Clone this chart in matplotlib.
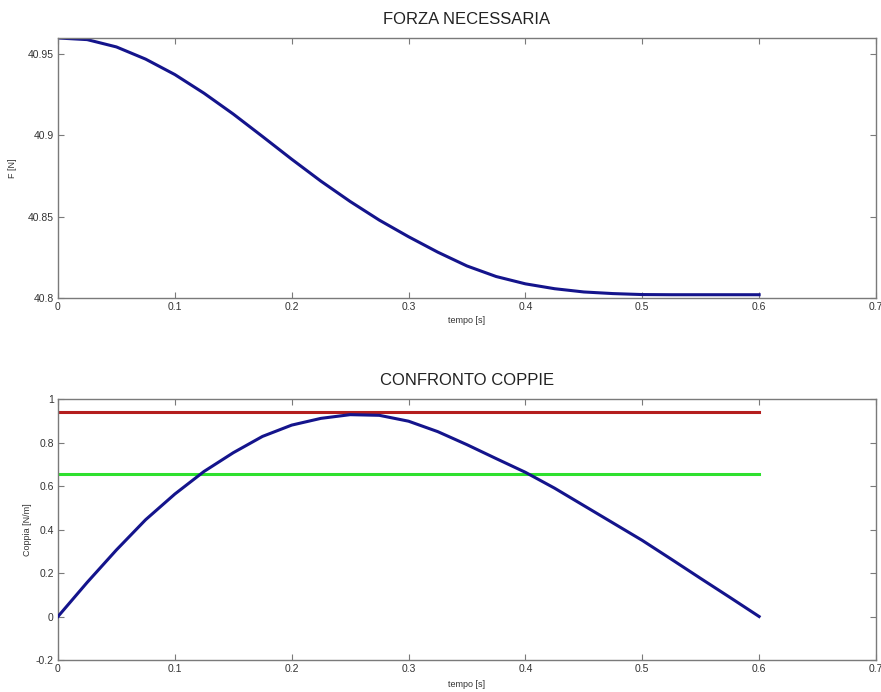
import matplotlib
matplotlib.use("Agg")
import matplotlib.pyplot as plt

# time samples [s]
tempo = [0.000, 0.025, 0.050, 0.075, 0.100, 0.125, 0.150, 0.175, 0.200,
         0.225, 0.250, 0.275, 0.300, 0.325, 0.350, 0.375, 0.400, 0.425,
         0.450, 0.475, 0.500, 0.525, 0.550, 0.575, 0.600]

# required force [N]
forza = [40.9600, 40.9590, 40.9545, 40.9470, 40.9375, 40.9260, 40.9132,
         40.8994, 40.8854, 40.8719, 40.8594, 40.8479, 40.8377, 40.8282,
         40.8197, 40.8132, 40.8087, 40.8057, 40.8037, 40.8027, 40.8021,
         40.8020, 40.8020, 40.8020, 40.8020]

# required torque [N/m]
coppia = [0.000, 0.157, 0.306, 0.445, 0.563, 0.667, 0.753, 0.828, 0.880,
          0.911, 0.928, 0.925, 0.898, 0.850, 0.790, 0.726, 0.663, 0.590,
          0.510, 0.430, 0.350, 0.263, 0.175, 0.088, 0.000]

# motor torque limits [N/m]
coppia_max = 0.94
coppia_nom = 0.655

x_ticks = [0, 0.1, 0.2, 0.3, 0.4, 0.5, 0.6, 0.7]
x_tick_labels = ["0", "0.1", "0.2", "0.3", "0.4", "0.5", "0.6", "0.7"]
f_ticks = [40.8, 40.85, 40.9, 40.95]
f_tick_labels = ["40.8", "40.85", "40.9", "40.95"]
c_ticks = [-0.2, 0, 0.2, 0.4, 0.6, 0.8, 1.0]
c_tick_labels = ["-0.2", "0", "0.2", "0.4", "0.6", "0.8", "1"]

plt.rcParams["font.family"] = ["Liberation Sans", "DejaVu Sans"]

fig = plt.figure(figsize=(8.81, 6.92), dpi=100)
ax1 = fig.add_axes([0.0658, 0.5694, 0.9285, 0.3757])
ax2 = fig.add_axes([0.0658, 0.0462, 0.9285, 0.3772])

blue = "#14148c"
frame = "#7a7a7a"


def style(ax):
    for s in ax.spines.values():
        s.set_color(frame)
        s.set_linewidth(1.0)
    ax.tick_params(direction="in", length=4, width=0.8, color=frame,
                   labelsize=7.5, labelcolor="#333333", pad=3,
                   top=True, right=True)
    ax.set_xlim(0, 0.7)
    ax.set_xticks(x_ticks)
    ax.set_xticklabels(x_tick_labels)


# upper panel: required force
ax1.plot(tempo, forza, color=blue, lw=2.2)
style(ax1)
ax1.set_ylim(40.8, 40.96)
ax1.set_yticks(f_ticks)
ax1.set_yticklabels(f_tick_labels)
ax1.set_title("FORZA NECESSARIA", fontsize=12, color="#222222", pad=10)
ax1.set_xlabel("tempo [s]", fontsize=6.5, color="#333333", labelpad=3)
ax1.set_ylabel("F [N]", fontsize=6.5, color="#333333", labelpad=8)

# lower panel: torque comparison
ax2.plot(tempo, coppia, color=blue, lw=2.2, zorder=3)
ax2.plot([tempo[0], tempo[-1]], [coppia_max, coppia_max], color="#b41e1e", lw=2.2)
ax2.plot([tempo[0], tempo[-1]], [coppia_nom, coppia_nom], color="#2ee02e", lw=2.2)
style(ax2)
ax2.set_ylim(-0.2, 1.0)
ax2.set_yticks(c_ticks)
ax2.set_yticklabels(c_tick_labels)
ax2.set_title("CONFRONTO COPPIE", fontsize=12, color="#222222", pad=10)
ax2.set_xlabel("tempo [s]", fontsize=6.5, color="#333333", labelpad=4)
ax2.set_ylabel("Coppia [N/m]", fontsize=6.5, color="#333333", labelpad=3)

fig.savefig("out.png", dpi=100)
